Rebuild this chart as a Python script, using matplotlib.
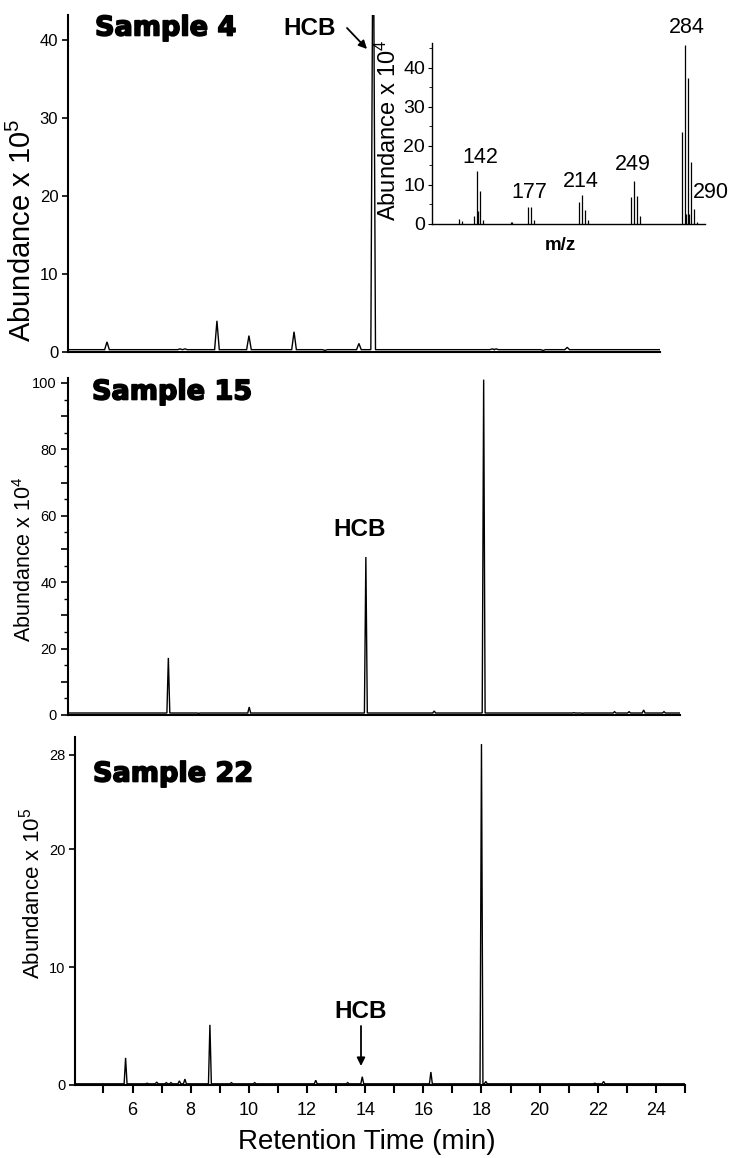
import matplotlib
matplotlib.use("Agg")
import matplotlib.pyplot as plt
import matplotlib.patheffects as pe
from matplotlib.ticker import FixedLocator, MultipleLocator, FuncFormatter

plt.rcParams['font.family'] = ['Liberation Sans', 'DejaVu Sans']
plt.rcParams['mathtext.fontset'] = 'custom'
plt.rcParams['mathtext.rm'] = 'Liberation Sans'
plt.rcParams['mathtext.default'] = 'rm'

# ---------------- data ----------------
# Sample 4 chromatogram (retention time, min ; abundance x 10^5)
S4_TIMES = [5.05, 7.56, 7.73, 8.83, 9.93, 11.48, 11.93, 12.54, 13.71, 14.20,
            15.02, 15.36, 15.84, 18.29, 18.43, 20.04, 20.87]
S4_HEIGHTS = [1.3, 0.4, 0.4, 4.0, 2.1, 2.6, 0.3, 0.2, 1.1, 62.0,
              0.3, 0.3, 0.3, 0.4, 0.4, 0.2, 0.6]
S4_BASE = 0.3

# Sample 15 chromatogram (abundance x 10^4)
S15_TIMES = [7.16, 8.2, 9.94, 13.95, 16.3, 18.0, 18.15, 21.1, 21.4, 22.5,
             23.0, 23.5, 24.2]
S15_HEIGHTS = [17.2, 0.5, 2.4, 47.6, 1.2, 101.0, 0.6, 0.7, 0.5, 1.0,
               1.0, 1.5, 1.0]
S15_BASE = 0.6

# Sample 22 chromatogram (abundance x 10^5)
S22_TIMES = [5.76, 6.5, 6.83, 7.16, 7.32, 7.61, 7.8, 8.66, 9.4, 10.2,
             12.3, 13.4, 13.9, 16.26, 17.1, 18.0, 18.15, 21.3, 21.9, 22.2]
S22_HEIGHTS = [2.3, 0.15, 0.25, 0.2, 0.2, 0.35, 0.5, 5.1, 0.2, 0.2,
               0.4, 0.2, 0.7, 1.1, 0.1, 28.9, 0.3, 0.1, 0.15, 0.3]
S22_BASE = 0.1

# HCB mass spectrum (inset) m/z ; abundance x 10^4
MZ = [130, 132, 140, 142, 143, 144, 146, 165, 166, 177, 179, 181,
      212, 214, 216, 218, 247, 249, 251, 253, 282, 284, 285, 286, 287, 288, 290, 292]
MZ_ABUND = [1.3, 0.7, 2.1, 13.7, 3.4, 8.4, 1.1, 0.5, 0.5, 4.3, 4.3, 1.0,
            5.6, 7.4, 3.6, 0.9, 6.8, 11.1, 7.1, 2.1, 23.5, 46.0, 2.5, 37.4, 2.5, 15.8, 3.8, 0.6]
MZ_LABELS = ['142', '177', '214', '249', '284', '290']
MZ_LABEL_X = [144, 178, 213, 248.5, 285, 302]
MZ_LABEL_Y = [14.3, 5.3, 8.2, 12.6, 47.6, 5.3]

X_TICKS = list(range(5, 26))
X_TICK_LABELS = [str(t) if t % 2 == 0 else '' for t in X_TICKS]

# ---------------- layout helpers ----------------
W, H = 732, 1158
fig = plt.figure(figsize=(W / 100, H / 100), dpi=100)


def rect(left, top, right, bottom):
    return [left / W, 1 - bottom / H, (right - left) / W, (bottom - top) / H]


def fx(x):
    return x / W


def fy(y):
    return 1 - y / H


def trace(ax, times, heights, base, hw, x0, x1):
    xs, ys = [x0], [base]
    for t, h in sorted(zip(times, heights)):
        xs += [t - hw, t, t + hw]
        ys += [base, h, base]
    xs.append(x1)
    ys.append(base)
    ax.plot(xs, ys, color='black', lw=1.0, solid_joinstyle='miter')


def style(ax):
    for s in ['top', 'right']:
        ax.spines[s].set_visible(False)
    for s in ['left', 'bottom']:
        ax.spines[s].set_linewidth(1.5)
    ax.tick_params(axis='y', direction='out', length=4, width=1.2, pad=3)


# ---------------- Sample 4 ----------------
ax1 = fig.add_axes(rect(68, 15, 660, 352))
x0, x1 = 3.71, 24.06
trace(ax1, S4_TIMES, S4_HEIGHTS, S4_BASE, 0.08, x0, x1)
ax1.set_xlim(x0, x1)
ax1.set_ylim(0, 43.2)
style(ax1)
ax1.set_xticks([])
ax1.set_yticks([0, 10, 20, 30, 40])
ax1.tick_params(axis='y', labelsize=12)

# ---------------- Sample 15 ----------------
ax2 = fig.add_axes(rect(68, 378, 680, 715))
x0, x1 = 3.71, 24.75
trace(ax2, S15_TIMES, S15_HEIGHTS, S15_BASE, 0.05, x0, x1)
ax2.set_xlim(x0, x1)
ax2.set_ylim(0, 101.5)
style(ax2)
ax2.set_xticks([])
ax2.yaxis.set_major_locator(MultipleLocator(10))
ax2.yaxis.set_minor_locator(MultipleLocator(5))
ax2.yaxis.set_major_formatter(FuncFormatter(lambda v, p: f"{int(round(v))}" if int(round(v)) % 20 == 0 else ""))
ax2.tick_params(axis='y', which='major', length=5, labelsize=10.5)
ax2.tick_params(axis='y', which='minor', length=3, width=1.0)

# ---------------- Sample 22 ----------------
ax3 = fig.add_axes(rect(75, 737, 685, 1085))
x0, x1 = 4.02, 25.0
trace(ax3, S22_TIMES, S22_HEIGHTS, S22_BASE, 0.05, x0, x1)
ax3.set_xlim(x0, x1)
ax3.set_ylim(0, 29.5)
style(ax3)
ax3.set_yticks([0, 10, 20, 28])
ax3.tick_params(axis='y', labelsize=10.5)
ax3.xaxis.set_major_locator(FixedLocator(X_TICKS))
ax3.set_xticklabels(X_TICK_LABELS)
ax3.tick_params(axis='x', direction='out', length=6, width=1.5, labelsize=13, pad=6)

# ---------------- inset mass spectrum ----------------
axi = fig.add_axes(rect(432, 43, 705, 224))
axi.vlines(MZ, 0, MZ_ABUND, color='black', lw=0.9)
axi.set_xlim(111.3, 297.7)
axi.set_ylim(0, 46.4)
for s in ['top', 'right']:
    axi.spines[s].set_visible(False)
axi.spines['left'].set_linewidth(1.0)
axi.spines['bottom'].set_linewidth(1.0)
axi.set_xticks([])
axi.yaxis.set_major_locator(FixedLocator([0, 10, 20, 30, 40]))
axi.yaxis.set_minor_locator(MultipleLocator(5))
axi.tick_params(axis='y', which='major', direction='out', length=3, width=0.8, labelsize=14, pad=2)
axi.tick_params(axis='y', which='minor', direction='out', length=2, width=0.6)
axi.patch.set_alpha(0)
for lab, x, y in zip(MZ_LABELS, MZ_LABEL_X, MZ_LABEL_Y):
    axi.text(x, y, lab, ha='center', va='bottom', fontsize=15.5, clip_on=False)

# ---------------- texts ----------------
heavy = [pe.withStroke(linewidth=1.2, foreground='black')]
bold_heavy = dict(family='DejaVu Sans', fontweight='bold', fontsize=19.5, path_effects=heavy)
fig.text(fx(95), fy(28.5), 'Sample 4', ha='left', va='center', **bold_heavy)
fig.text(fx(92), fy(392.5), 'Sample 15', ha='left', va='center', **bold_heavy)
fig.text(fx(93), fy(774.5), 'Sample 22', ha='left', va='center', **bold_heavy)

hcb = dict(fontweight='bold', fontsize=17.5, ha='center', va='center')
fig.text(fx(310), fy(28.5), 'HCB', **hcb)
fig.text(fx(360), fy(529), 'HCB', **hcb)
fig.text(fx(361), fy(1011), 'HCB', **hcb)

arrow = dict(arrowstyle='-|>', color='black', lw=1.3, mutation_scale=12, shrinkA=0, shrinkB=0)
fig.add_artist(matplotlib.patches.FancyArrowPatch((fx(347), fy(28)), (fx(367), fy(49)),
                                                  transform=fig.transFigure, **arrow))
fig.add_artist(matplotlib.patches.FancyArrowPatch((fx(361), fy(1026)), (fx(361), fy(1066)),
                                                  transform=fig.transFigure, **arrow))

fig.text(fx(22), fy(230), r'Abundance x 10$^{5}$', rotation=90, ha='center', va='center', fontsize=21)
fig.text(fx(25), fy(559), r'Abundance x 10$^{4}$', rotation=90, ha='center', va='center', fontsize=15.5)
fig.text(fx(32), fy(893), r'Abundance x 10$^{5}$', rotation=90, ha='center', va='center', fontsize=16)
fig.text(fx(388), fy(130), r'Abundance x 10$^{4}$', rotation=90, ha='center', va='center', fontsize=17)
fig.text(fx(560), fy(246), 'm/z', ha='center', va='center', fontsize=13.5, fontweight='bold')

fig.text(fx(367), fy(1142), 'Retention Time (min)', ha='center', va='center', fontsize=20)

fig.savefig('out.png', dpi=100)
